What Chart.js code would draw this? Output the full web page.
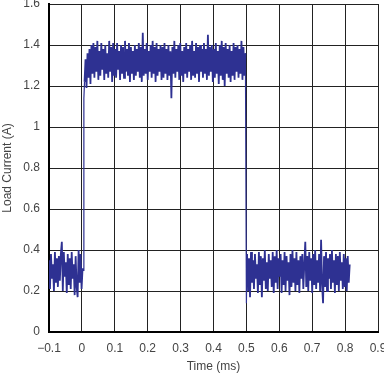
<!DOCTYPE html>
<html>
<head>
<meta charset="utf-8">
<script src="https://cdn.jsdelivr.net/npm/chart.js@4.4.0/dist/chart.umd.min.js"></script>
<style>
  html, body { margin: 0; padding: 0; background: #fff; }
</style>
</head>
<body>
<canvas id="c" width="384" height="374"></canvas>
<script>
// sample spacing of the scope capture (ms)
const sampleStep = 0.003;

// before the load step, starting at -0.1 ms
const preStart = -0.1;
const preCurrent = [0.35,0.21,0.38,0.26,0.33,0.2,0.39,0.24,0.36,0.22,0.37,0.25,0.38,0.44,0.2,0.39,0.27,0.34,0.19,0.38,
  0.23,0.36,0.21,0.39,0.26,0.33,0.18,0.37,0.22,0.17,0.4,0.24,0.38,0.21,0.31];

// rising edge
const riseTime = [0.004, 0.006];
const riseCurrent = [0.3, 1.14];

// load on
const onStart = 0.008;
const onCurrent = [
  1.22,1.33,1.19,1.36,1.24,1.38,1.21,1.4,1.26,1.41,
  1.24,1.39,1.27,1.42,1.23,1.37,1.25,1.41,1.28,1.38,
  1.23,1.4,1.26,1.36,1.24,1.42,1.27,1.39,1.22,1.41,
  1.25,1.38,1.24,1.41,1.28,1.37,1.23,1.4,1.26,1.39,
  1.24,1.42,1.27,1.38,1.25,1.41,1.22,1.39,1.26,1.37,
  1.23,1.4,1.25,1.38,1.27,1.41,1.24,1.39,1.22,1.46,
  1.25,1.38,1.26,1.41,1.23,1.37,1.27,1.4,1.24,1.42,
  1.26,1.39,1.22,1.41,1.25,1.38,1.27,1.4,1.23,1.39,
  1.24,1.41,1.26,1.38,1.23,1.4,1.25,1.37,1.14,1.39,
  1.26,1.42,1.24,1.38,1.27,1.4,1.23,1.41,1.25,1.37,
  1.22,1.39,1.26,1.41,1.24,1.38,1.27,1.4,1.23,1.42,
  1.25,1.37,1.24,1.41,1.26,1.39,1.22,1.4,1.27,1.38,
  1.24,1.41,1.26,1.38,1.23,1.45,1.25,1.39,1.27,1.4,
  1.22,1.38,1.24,1.41,1.26,1.37,1.21,1.4,1.25,1.42,
  1.23,1.39,1.2,1.41,1.26,1.38,1.24,1.4,1.22,1.37,
  1.25,1.41,1.23,1.39,1.27,1.4,1.24,1.38,1.26,1.42,
  1.23,1.39,1.25,1.36];

// falling edge
const fallTime = [0.5];
const fallCurrent = [0.14];

// load off
const offStart = 0.502;
const offCurrent = [
  0.38,0.2,0.36,0.17,0.39,0.24,0.35,0.21,0.38,0.26,
  0.33,0.19,0.39,0.23,0.37,0.17,0.36,0.25,0.4,0.21,
  0.34,0.2,0.38,0.26,0.35,0.22,0.39,0.19,0.37,0.24,
  0.4,0.21,0.36,0.27,0.38,0.19,0.35,0.23,0.39,0.2,
  0.37,0.25,0.34,0.18,0.38,0.22,0.4,0.24,0.36,0.2,
  0.39,0.23,0.35,0.19,0.37,0.26,0.38,0.21,0.33,0.44,
  0.22,0.37,0.2,0.39,0.25,0.36,0.19,0.38,0.23,0.4,
  0.21,0.35,0.24,0.38,0.2,0.45,0.23,0.14,0.37,0.22,
  0.39,0.2,0.36,0.26,0.38,0.21,0.4,0.24,0.35,0.19,
  0.38,0.23,0.37,0.2,0.39,0.25,0.34,0.21,0.38,0.22,
  0.36,0.2,0.37,0.24,0.33];

const xTicks = [-0.1, 0, 0.1, 0.2, 0.3, 0.4, 0.5, 0.6, 0.7, 0.8, 0.9];
const yTicks = [0, 0.2, 0.4, 0.6, 0.8, 1, 1.2, 1.4, 1.6];

const toPts = (start, vals) => vals.map((v, i) => ({x: start + i * sampleStep, y: v}));
const prePts = toPts(preStart, preCurrent);
const onPts = toPts(onStart, onCurrent);
const offPts = toPts(offStart, offCurrent);

// the edges are drawn thin, joining the noisy stretches
const edgePts = [prePts[prePts.length - 1]]
  .concat(riseCurrent.map((v, i) => ({x: riseTime[i], y: v})))
  .concat([onPts[0], {x: NaN, y: NaN}, onPts[onPts.length - 1]])
  .concat(fallCurrent.map((v, i) => ({x: fallTime[i], y: v})))
  .concat([offPts[0]]);

const blue = "#2e3192";
const noisy = d => ({data: d, borderColor: blue, borderWidth: 1.8, pointRadius: 0, tension: 0});

const fnt = {family: "'Liberation Sans', Arial, sans-serif", size: 12};

new Chart(document.getElementById("c"), {
  type: "line",
  data: {
    datasets: [
      noisy(prePts),
      noisy(onPts),
      noisy(offPts),
      {data: edgePts, borderColor: blue, borderWidth: 1.2, pointRadius: 0, tension: 0, spanGaps: false}
    ]
  },
  options: {
    responsive: false,
    animation: false,
    plugins: { legend: { display: false }, tooltip: { enabled: false } },
    layout: { padding: { top: 4, right: 6, left: 0, bottom: 0 } },
    scales: {
      x: {
        type: "linear",
        min: -0.1,
        max: 0.9,
        afterBuildTicks: s => { s.ticks = xTicks.map(v => ({value: v})); },
        afterFit: s => { s.height = 42; s.paddingLeft = 0; s.paddingRight = 0; },
        grid: { color: "#222", lineWidth: 1, drawTicks: false },
        border: { color: "#000", width: 2 },
        ticks: {
          color: "#444",
          font: fnt,
          padding: 9,
          maxRotation: 0,
          callback: v => String(Math.round(v * 10) / 10).replace("-", "\u2212")
        },
        title: { display: true, text: "Time (ms)", color: "#444", font: fnt, padding: {top: 4, bottom: 0} }
      },
      y: {
        min: 0,
        max: 1.6,
        afterBuildTicks: s => { s.ticks = yTicks.map(v => ({value: v})); },
        afterFit: s => { s.width = 49; s.paddingTop = 0; s.paddingBottom = 0; },
        grid: { color: "#222", lineWidth: 1, drawTicks: false },
        border: { color: "#000", width: 2 },
        ticks: {
          color: "#444",
          font: fnt,
          padding: 9,
          callback: v => String(Math.round(v * 10) / 10)
        },
        title: { display: true, text: "Load Current (A)", color: "#444", font: fnt, padding: {top: 0, bottom: 0} }
      }
    }
  }
});
</script>
</body>
</html>
